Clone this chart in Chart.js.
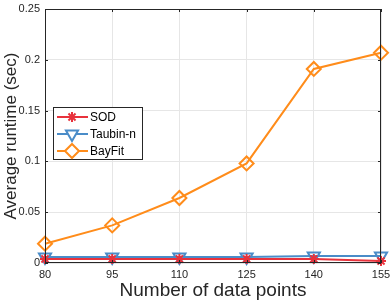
<!DOCTYPE html>
<html><head><meta charset="utf-8">
<script src="https://cdn.jsdelivr.net/npm/chart.js@4.4.1/dist/chart.umd.min.js"></script>
<style>html,body{margin:0;padding:0;background:#fff;}#wrap{width:390px;height:302px;}</style>
</head><body><div id="wrap"><canvas id="c" width="390" height="302"></canvas></div>
<script>
const categories = [80, 95, 110, 125, 140, 155];
const sodValues = [0.004, 0.004, 0.004, 0.004, 0.004, 0.002];
const taubinValues = [0.006, 0.006, 0.006, 0.006, 0.007, 0.007];
const bayfitValues = [0.019, 0.037, 0.064, 0.098, 0.191, 0.207];
const seriesNames = ['SOD', 'Taubin-n', 'BayFit'];
const yTickLabels = ['0', '0.05', '0.1', '0.15', '0.2', '0.25'];

const FONT = '"Liberation Sans", Arial, Helvetica, sans-serif';
const AX = '#262626';
const toPts = v => categories.map((x, i) => ({x: x, y: v[i]}));

const boxPlugin = {
  id: 'box',
  afterDatasetsDraw(chart) {
    const {ctx, chartArea: a} = chart;
    ctx.save();
    ctx.strokeStyle = AX; ctx.lineWidth = 1;
    ctx.strokeRect(a.left + 0.5, a.top + 0.5, a.right - a.left - 1, a.bottom - a.top - 1);
    const xs = chart.scales.x, ys = chart.scales.y;
    ctx.beginPath();
    categories.forEach(v => {
      const px = Math.round(xs.getPixelForValue(v)) + 0.5;
      ctx.moveTo(px, a.bottom); ctx.lineTo(px, a.bottom - 3);
      ctx.moveTo(px, a.top); ctx.lineTo(px, a.top + 3);
    });
    yTickLabels.forEach((t, i) => {
      const py = Math.round(ys.getPixelForValue(i * 0.05)) + 0.5;
      ctx.moveTo(a.left, py); ctx.lineTo(a.left + 3, py);
      ctx.moveTo(a.right, py); ctx.lineTo(a.right - 3, py);
    });
    ctx.stroke();
    // legend
    const lx = 53, ly = 107, lw = 89, lh = 52;
    ctx.fillStyle = '#fff';
    ctx.fillRect(lx, ly, lw, lh);
    ctx.strokeStyle = '#262626'; ctx.lineWidth = 1;
    ctx.strokeRect(lx + 0.5, ly + 0.5, lw, lh);
    const rows = [117, 134, 151];
    chart.data.datasets.forEach((ds, i) => {
      const y = rows[i];
      ctx.strokeStyle = ds.borderColor; ctx.lineWidth = 2;
      ctx.beginPath(); ctx.moveTo(57, y); ctx.lineTo(88, y); ctx.stroke();
      ctx.fillStyle = '#fff';
      ctx.strokeStyle = ds.borderColor; ctx.lineWidth = ds.pointBorderWidth;
      Chart.helpers.drawPoint(ctx, {pointStyle: ds.pointStyle, radius: ds.pointRadius, rotation: ds.pointRotation || 0, borderWidth: ds.pointBorderWidth}, 72, y);
      ctx.fillStyle = '#000';
      ctx.font = '12px ' + FONT;
      ctx.textBaseline = 'middle'; ctx.textAlign = 'left';
      ctx.fillText(ds.label, 90, y + 1);
    });
    ctx.restore();
  }
};

new Chart(document.getElementById('c'), {
  type: 'line',
  data: {
    datasets: [
      {label: seriesNames[0], data: toPts(sodValues), borderColor: '#e8323c', backgroundColor: 'rgba(0,0,0,0)', borderWidth: 2,
       pointStyle: 'star', pointRadius: 5, pointBorderWidth: 2, pointBorderColor: '#e8323c', pointBackgroundColor: 'rgba(0,0,0,0)', clip: false},
      {label: seriesNames[1], data: toPts(taubinValues), borderColor: '#4a8cc8', backgroundColor: 'rgba(0,0,0,0)', borderWidth: 2,
       pointStyle: 'triangle', pointRotation: 180, pointRadius: 7, pointBorderWidth: 2, pointBorderColor: '#4a8cc8', pointBackgroundColor: 'rgba(0,0,0,0)', clip: false},
      {label: seriesNames[2], data: toPts(bayfitValues), borderColor: '#ff8c1a', backgroundColor: 'rgba(0,0,0,0)', borderWidth: 2,
       pointStyle: 'rectRot', pointRadius: 7, pointBorderWidth: 2, pointBorderColor: '#ff8c1a', pointBackgroundColor: 'rgba(0,0,0,0)', clip: false}
    ]
  },
  options: {
    responsive: false, animation: false, devicePixelRatio: 1,
    layout: {padding: {top: 4, right: 9, left: 0, bottom: 0}},
    plugins: {legend: {display: false}, tooltip: {enabled: false}},
    scales: {
      x: {
        type: 'linear', min: 80, max: 155,
        afterBuildTicks: s => { s.ticks = categories.map(v => ({value: v})); },
        afterFit: s => { s.height = 39; s.paddingLeft = 0; s.paddingRight = 0; },
        grid: {color: '#e6e6e6', drawTicks: false},
        border: {display: false},
        ticks: {padding: 5, color: AX, font: {family: FONT, size: 11}, maxRotation: 0, callback: v => String(v)},
        title: {display: true, text: 'Number of data points', color: AX, font: {family: FONT, size: 19}, padding: {top: 0, bottom: 0}}
      },
      y: {
        min: 0, max: 0.25,
        afterBuildTicks: s => { s.ticks = yTickLabels.map((t, i) => ({value: i * 0.05})); },
        afterFit: s => { s.width = 45; s.paddingTop = 0; s.paddingBottom = 0; },
        grid: {color: '#e6e6e6', drawTicks: false},
        border: {display: false},
        ticks: {padding: 5, color: AX, font: {family: FONT, size: 11}, callback: (v, i) => yTickLabels[i]},
        title: {display: true, text: 'Average runtime (sec)', color: AX, font: {family: FONT, size: 17}, padding: {top: 1, bottom: 0}}
      }
    }
  },
  plugins: [boxPlugin]
});
</script></body></html>
